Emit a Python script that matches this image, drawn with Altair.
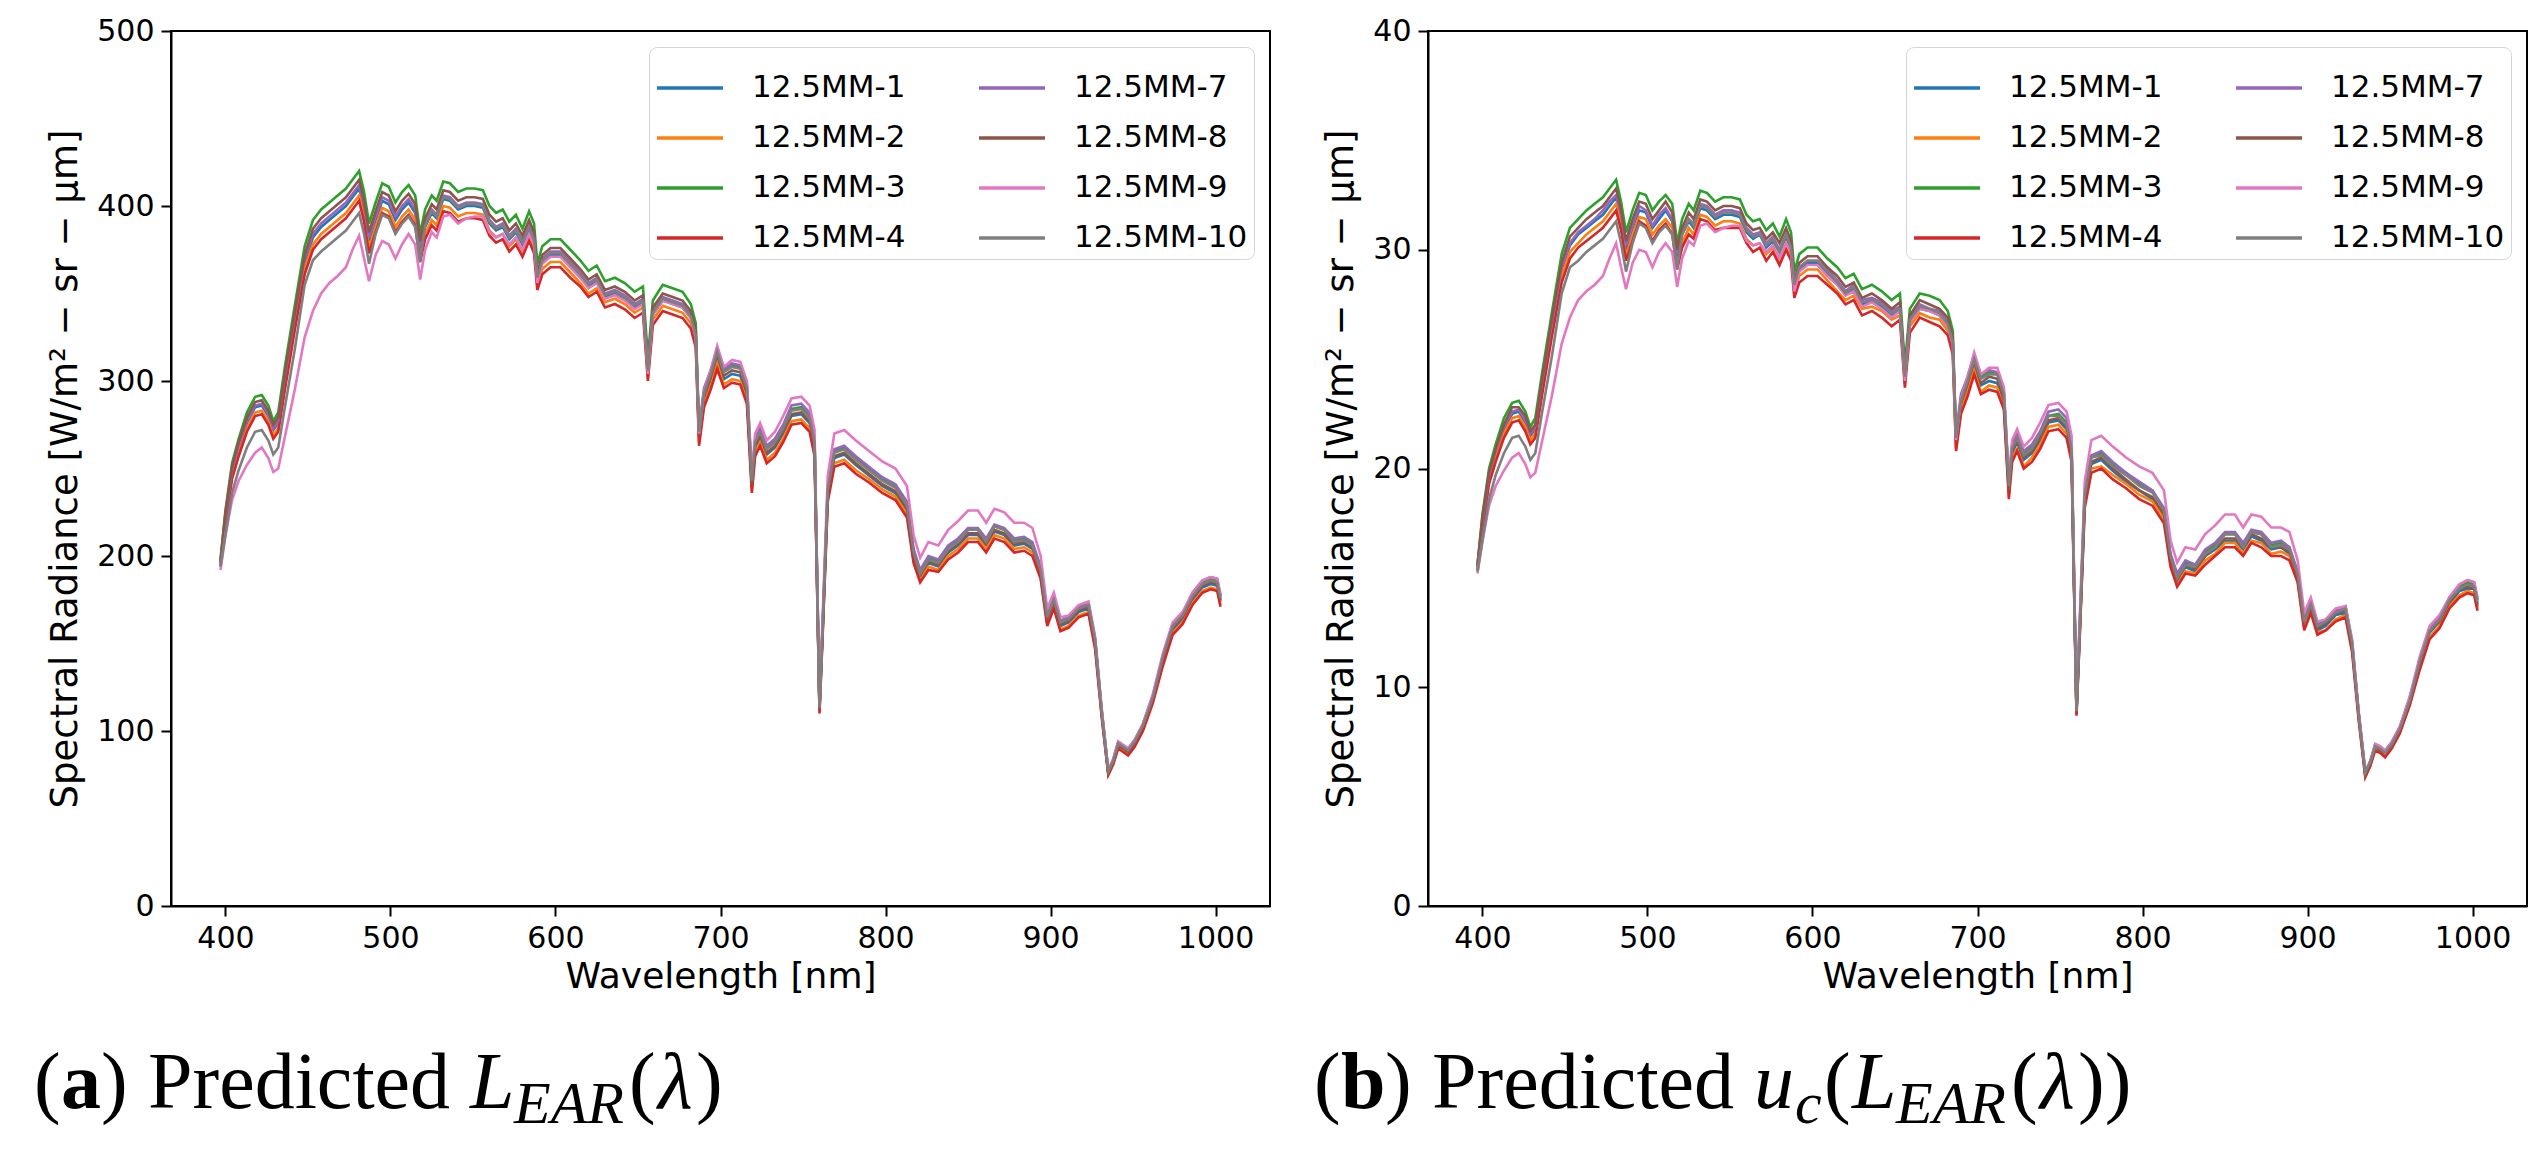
import altair as alt
import pandas as pd

# wavelength grid [nm]
wavelength = [397, 400, 404, 408, 413, 418, 422, 426, 429, 432,
              436, 442, 448, 453, 458, 463, 468, 473, 477, 481,
              484, 487, 491, 495, 499, 503, 507, 511, 515, 518,
              521, 525, 528, 532, 536, 541, 546, 551, 556, 560,
              564, 568, 572, 576, 580, 584, 587, 589, 592, 597,
              603, 609, 615, 620, 625, 630, 636, 642, 648, 653,
              656, 659, 665, 671, 677, 682, 685, 687, 690, 694,
              698, 702, 707, 712, 716, 719, 721, 724, 728, 733,
              738, 743, 749, 754, 757, 760, 762, 765, 769, 775,
              782, 790, 798, 806, 813, 817, 821, 826, 832, 838,
              844, 850, 856, 861, 866, 872, 878, 884, 889, 894,
              898, 902, 906, 911, 917, 923, 927, 931, 935, 938,
              941, 944, 947, 951, 956, 962, 968, 974, 980, 986,
              992, 997, 1001, 1003]

series = ["12.5MM-1", "12.5MM-2", "12.5MM-3", "12.5MM-4",
          "12.5MM-7", "12.5MM-8", "12.5MM-9", "12.5MM-10"]
colors = ["#1f77b4", "#ff7f0e", "#2ca02c", "#d62728",
          "#9467bd", "#8c564b", "#e377c2", "#7f7f7f"]

# (a) predicted radiance L_EAR
rad_1 = [196, 222, 248, 262, 276, 285, 286, 280, 272, 276, 300, 335, 368, 382, 388, 392, 396, 400, 405, 410,
         398, 380, 392, 403, 401, 392, 398, 402, 396, 375, 388, 396, 393, 404, 403, 398, 400, 400, 399, 390,
         386, 388, 381, 385, 378, 387, 380, 358, 368, 372, 372, 366, 360, 354, 357, 348, 350, 347, 342, 345,
         305, 338, 346, 344, 342, 336, 325, 268, 290, 300, 313, 301, 304, 303, 292, 240, 262, 268, 258, 262,
         270, 280, 281, 276, 262, 112, 160, 235, 256, 258, 252, 246, 240, 236, 226, 200, 188, 196, 194, 202,
         206, 212, 212, 206, 214, 212, 206, 207, 204, 190, 163, 173, 160, 162, 168, 170, 150, 110, 76, 82,
         92, 90, 88, 93, 102, 118, 140, 158, 164, 175, 182, 184, 183, 174]
rad_2 = [195, 220, 246, 259, 273, 282, 283, 277, 269, 273, 297, 332, 364, 378, 384, 388, 392, 396, 401, 406,
         394, 376, 388, 399, 397, 388, 394, 398, 392, 371, 384, 392, 389, 400, 399, 394, 396, 396, 395, 386,
         382, 384, 377, 381, 374, 383, 376, 354, 364, 368, 368, 362, 356, 350, 353, 345, 347, 344, 339, 342,
         302, 335, 343, 341, 339, 333, 322, 265, 287, 297, 310, 298, 301, 300, 289, 238, 259, 265, 255, 259,
         267, 277, 278, 273, 259, 111, 158, 233, 253, 255, 249, 244, 238, 234, 224, 198, 186, 194, 192, 200,
         204, 210, 210, 204, 212, 210, 204, 205, 202, 188, 161, 171, 158, 160, 166, 168, 149, 109, 75, 81,
         91, 89, 87, 92, 101, 117, 139, 156, 162, 173, 180, 182, 181, 172]
rad_3 = [198, 226, 253, 267, 282, 291, 292, 286, 277, 282, 308, 343, 377, 392, 398, 402, 406, 410, 415, 420,
         408, 390, 402, 413, 411, 402, 408, 412, 406, 384, 398, 406, 403, 414, 413, 408, 410, 410, 409, 400,
         396, 398, 391, 395, 387, 397, 390, 367, 377, 381, 381, 375, 369, 363, 366, 357, 359, 356, 351, 354,
         313, 346, 355, 353, 351, 344, 333, 272, 294, 305, 318, 306, 309, 308, 296, 244, 266, 272, 262, 266,
         274, 284, 285, 280, 266, 114, 162, 239, 260, 262, 256, 250, 244, 240, 229, 203, 191, 199, 197, 205,
         209, 215, 215, 209, 217, 215, 209, 210, 207, 193, 165, 176, 162, 164, 171, 173, 152, 112, 77, 83,
         93, 91, 89, 94, 104, 120, 142, 160, 166, 178, 185, 187, 186, 177]
rad_4 = [194, 218, 244, 257, 271, 280, 281, 275, 267, 271, 295, 329, 361, 375, 381, 385, 389, 393, 398, 403,
         391, 373, 385, 396, 394, 385, 391, 395, 389, 368, 381, 389, 386, 397, 396, 391, 393, 393, 392, 383,
         379, 381, 374, 378, 371, 380, 373, 352, 361, 365, 365, 359, 354, 348, 351, 342, 344, 341, 336, 339,
         300, 332, 340, 338, 336, 330, 319, 263, 285, 295, 307, 296, 299, 298, 287, 236, 257, 263, 253, 257,
         265, 275, 276, 271, 257, 110, 157, 231, 251, 253, 247, 242, 236, 232, 222, 196, 185, 192, 191, 198,
         202, 208, 208, 202, 210, 208, 202, 203, 200, 187, 160, 170, 157, 159, 165, 167, 147, 108, 75, 81,
         90, 88, 86, 91, 100, 116, 137, 155, 161, 172, 179, 181, 180, 171]
rad_7 = [196, 223, 249, 263, 277, 286, 287, 281, 273, 277, 302, 337, 370, 384, 390, 394, 398, 402, 407, 412,
         400, 382, 394, 405, 403, 394, 400, 404, 398, 377, 390, 398, 395, 406, 405, 400, 402, 402, 401, 392,
         388, 390, 383, 387, 380, 389, 382, 360, 370, 374, 374, 368, 362, 356, 359, 350, 352, 349, 344, 347,
         307, 340, 348, 346, 344, 338, 327, 273, 296, 306, 319, 307, 310, 309, 298, 245, 267, 273, 263, 267,
         275, 286, 287, 282, 267, 114, 163, 240, 261, 263, 257, 251, 245, 241, 231, 204, 192, 200, 198, 206,
         210, 216, 216, 210, 218, 216, 210, 211, 208, 194, 166, 176, 163, 165, 171, 173, 153, 112, 77, 84,
         94, 92, 90, 95, 104, 120, 143, 161, 167, 179, 186, 188, 187, 177]
rad_8 = [197, 225, 251, 265, 279, 288, 289, 283, 275, 279, 304, 339, 372, 387, 393, 397, 401, 405, 410, 415,
         403, 385, 397, 408, 406, 397, 403, 407, 401, 380, 393, 401, 398, 409, 408, 403, 405, 405, 404, 395,
         391, 393, 386, 390, 383, 392, 385, 362, 372, 376, 376, 370, 364, 358, 361, 352, 354, 351, 346, 349,
         309, 342, 350, 348, 346, 340, 329, 269, 291, 302, 315, 303, 306, 305, 293, 241, 263, 269, 259, 263,
         271, 281, 282, 277, 263, 113, 161, 236, 257, 259, 253, 247, 241, 237, 227, 201, 189, 197, 195, 203,
         207, 213, 213, 207, 215, 213, 207, 208, 205, 191, 164, 174, 161, 163, 169, 171, 151, 111, 76, 82,
         92, 90, 88, 93, 103, 119, 141, 159, 165, 176, 183, 185, 184, 175]
rad_9 = [192, 212, 232, 243, 252, 259, 262, 256, 248, 250, 268, 295, 325, 340, 350, 356, 360, 365, 375, 383,
         370, 357, 372, 380, 378, 370, 378, 384, 378, 358, 375, 385, 382, 394, 395, 390, 393, 394, 394, 385,
         382, 384, 378, 382, 375, 384, 378, 356, 367, 371, 371, 365, 359, 353, 356, 347, 349, 346, 341, 344,
         304, 338, 346, 344, 342, 336, 325, 270, 294, 306, 320, 308, 312, 311, 300, 247, 270, 276, 266, 271,
         280, 290, 291, 286, 272, 116, 168, 246, 270, 272, 266, 260, 254, 250, 240, 212, 199, 208, 206, 215,
         220, 226, 226, 219, 227, 225, 219, 219, 216, 200, 170, 179, 165, 166, 172, 174, 154, 113, 78, 84,
         94, 92, 90, 95, 104, 121, 144, 162, 168, 179, 186, 188, 187, 178]
rad_10 = [194, 212, 236, 249, 262, 271, 272, 266, 258, 262, 285, 318, 355, 369, 374, 378, 382, 386, 391, 396,
          384, 367, 384, 395, 393, 384, 390, 394, 388, 368, 389, 397, 394, 405, 404, 399, 401, 401, 400, 391,
          387, 389, 382, 386, 379, 388, 381, 359, 369, 373, 373, 367, 361, 355, 358, 349, 351, 348, 343, 346,
          306, 339, 347, 345, 343, 337, 326, 271, 293, 304, 317, 305, 308, 307, 296, 243, 265, 271, 261, 265,
          273, 283, 284, 279, 265, 113, 162, 238, 259, 261, 255, 249, 243, 239, 229, 202, 190, 198, 196, 204,
          208, 215, 215, 208, 217, 215, 208, 209, 206, 192, 165, 175, 162, 164, 170, 172, 152, 111, 77, 83,
          93, 91, 89, 94, 103, 119, 142, 160, 166, 177, 184, 186, 185, 176]

# (b) predicted uncertainty u_c(L_EAR)
unc_1 = [15.5, 17.5, 19.6, 20.7, 21.8, 22.5, 22.6, 22.1, 21.5, 21.8, 23.7, 26.5, 29.1, 30.2, 30.7, 31.0, 31.3, 31.6, 32.0, 32.4,
         31.4, 30.0, 31.0, 31.8, 31.7, 31.0, 31.4, 31.8, 31.3, 29.6, 30.7, 31.3, 31.0, 31.9, 31.8, 31.4, 31.6, 31.6, 31.5, 30.8,
         30.5, 30.7, 30.1, 30.4, 29.9, 30.6, 30.0, 28.3, 29.1, 29.4, 29.4, 28.9, 28.4, 28.0, 28.2, 27.5, 27.7, 27.4, 27.0, 27.3,
         24.1, 26.7, 27.3, 27.2, 27.0, 26.5, 25.7, 21.2, 22.9, 23.7, 24.7, 23.8, 24.0, 23.9, 23.1, 19.0, 20.7, 21.2, 20.4, 20.7,
         21.3, 22.1, 22.2, 21.8, 20.7, 8.8, 12.6, 18.6, 20.2, 20.4, 19.9, 19.4, 19.0, 18.6, 17.9, 15.8, 14.9, 15.5, 15.3, 16.0,
         16.3, 16.7, 16.7, 16.3, 16.9, 16.7, 16.3, 16.4, 16.1, 15.0, 12.9, 13.7, 12.6, 12.8, 13.3, 13.4, 11.9, 8.7, 6.0, 6.5,
         7.3, 7.1, 7.0, 7.3, 8.1, 9.3, 11.1, 12.5, 13.0, 13.8, 14.4, 14.5, 14.5, 13.7]
unc_2 = [15.4, 17.4, 19.4, 20.5, 21.6, 22.3, 22.4, 21.9, 21.3, 21.6, 23.5, 26.2, 28.8, 29.9, 30.3, 30.7, 31.0, 31.3, 31.7, 32.1,
         31.1, 29.7, 30.7, 31.5, 31.4, 30.7, 31.1, 31.4, 31.0, 29.3, 30.3, 31.0, 30.7, 31.6, 31.5, 31.1, 31.3, 31.3, 31.2, 30.5,
         30.2, 30.3, 29.8, 30.1, 29.5, 30.3, 29.7, 28.0, 28.8, 29.1, 29.1, 28.6, 28.1, 27.7, 27.9, 27.3, 27.4, 27.2, 26.8, 27.0,
         23.9, 26.5, 27.1, 26.9, 26.8, 26.3, 25.4, 20.9, 22.7, 23.5, 24.5, 23.5, 23.8, 23.7, 22.8, 18.8, 20.5, 20.9, 20.1, 20.5,
         21.1, 21.9, 22.0, 21.6, 20.5, 8.8, 12.5, 18.4, 20.0, 20.1, 19.7, 19.3, 18.8, 18.5, 17.7, 15.6, 14.7, 15.3, 15.2, 15.8,
         16.1, 16.6, 16.6, 16.1, 16.7, 16.6, 16.1, 16.2, 16.0, 14.9, 12.7, 13.5, 12.5, 12.6, 13.1, 13.3, 11.8, 8.6, 5.9, 6.4,
         7.2, 7.0, 6.9, 7.3, 8.0, 9.2, 11.0, 12.3, 12.8, 13.7, 14.2, 14.4, 14.3, 13.6]
unc_3 = [15.6, 17.9, 20.0, 21.1, 22.3, 23.0, 23.1, 22.6, 21.9, 22.3, 24.3, 27.1, 29.8, 31.0, 31.4, 31.8, 32.1, 32.4, 32.8, 33.2,
         32.2, 30.8, 31.8, 32.6, 32.5, 31.8, 32.2, 32.5, 32.1, 30.3, 31.4, 32.1, 31.8, 32.7, 32.6, 32.2, 32.4, 32.4, 32.3, 31.6,
         31.3, 31.4, 30.9, 31.2, 30.6, 31.4, 30.8, 29.0, 29.8, 30.1, 30.1, 29.6, 29.2, 28.7, 28.9, 28.2, 28.4, 28.1, 27.7, 28.0,
         24.7, 27.3, 28.0, 27.9, 27.7, 27.2, 26.3, 21.5, 23.2, 24.1, 25.1, 24.2, 24.4, 24.3, 23.4, 19.3, 21.0, 21.5, 20.7, 21.0,
         21.6, 22.4, 22.5, 22.1, 21.0, 9.0, 12.8, 18.9, 20.5, 20.7, 20.2, 19.8, 19.3, 19.0, 18.1, 16.0, 15.1, 15.7, 15.6, 16.2,
         16.5, 17.0, 17.0, 16.5, 17.1, 17.0, 16.5, 16.6, 16.4, 15.2, 13.0, 13.9, 12.8, 13.0, 13.5, 13.7, 12.0, 8.8, 6.1, 6.6,
         7.3, 7.2, 7.0, 7.4, 8.2, 9.5, 11.2, 12.6, 13.1, 14.1, 14.6, 14.8, 14.7, 14.0]
unc_4 = [15.3, 17.2, 19.3, 20.3, 21.4, 22.1, 22.2, 21.7, 21.1, 21.4, 23.3, 26.0, 28.5, 29.6, 30.1, 30.4, 30.7, 31.0, 31.4, 31.8,
         30.9, 29.5, 30.4, 31.3, 31.1, 30.4, 30.9, 31.2, 30.7, 29.1, 30.1, 30.7, 30.5, 31.4, 31.3, 30.9, 31.0, 31.0, 31.0, 30.3,
         29.9, 30.1, 29.5, 29.9, 29.3, 30.0, 29.5, 27.8, 28.5, 28.8, 28.8, 28.4, 28.0, 27.5, 27.7, 27.0, 27.2, 26.9, 26.5, 26.8,
         23.7, 26.2, 26.9, 26.7, 26.5, 26.1, 25.2, 20.8, 22.5, 23.3, 24.3, 23.4, 23.6, 23.5, 22.7, 18.6, 20.3, 20.8, 20.0, 20.3,
         20.9, 21.7, 21.8, 21.4, 20.3, 8.7, 12.4, 18.2, 19.8, 20.0, 19.5, 19.1, 18.6, 18.3, 17.5, 15.5, 14.6, 15.2, 15.1, 15.6,
         16.0, 16.4, 16.4, 16.0, 16.6, 16.4, 16.0, 16.0, 15.8, 14.8, 12.6, 13.4, 12.4, 12.6, 13.0, 13.2, 11.6, 8.5, 5.9, 6.4,
         7.1, 7.0, 6.8, 7.2, 7.9, 9.2, 10.8, 12.2, 12.7, 13.6, 14.1, 14.3, 14.2, 13.5]
unc_7 = [15.5, 17.6, 19.7, 20.8, 21.9, 22.6, 22.7, 22.2, 21.6, 21.9, 23.9, 26.6, 29.2, 30.3, 30.8, 31.1, 31.4, 31.8, 32.2, 32.5,
         31.6, 30.2, 31.1, 32.0, 31.8, 31.1, 31.6, 31.9, 31.4, 29.8, 30.8, 31.4, 31.2, 32.1, 32.0, 31.6, 31.8, 31.8, 31.7, 31.0,
         30.7, 30.8, 30.3, 30.6, 30.0, 30.7, 30.2, 28.4, 29.2, 29.5, 29.5, 29.1, 28.6, 28.1, 28.4, 27.7, 27.8, 27.6, 27.2, 27.4,
         24.3, 26.9, 27.5, 27.3, 27.2, 26.7, 25.8, 21.6, 23.4, 24.2, 25.2, 24.3, 24.5, 24.4, 23.5, 19.4, 21.1, 21.6, 20.8, 21.1,
         21.7, 22.6, 22.7, 22.3, 21.1, 9.0, 12.9, 19.0, 20.6, 20.8, 20.3, 19.8, 19.4, 19.0, 18.2, 16.1, 15.2, 15.8, 15.6, 16.3,
         16.6, 17.1, 17.1, 16.6, 17.2, 17.1, 16.6, 16.7, 16.4, 15.3, 13.1, 13.9, 12.9, 13.0, 13.5, 13.7, 12.1, 8.8, 6.1, 6.6,
         7.4, 7.3, 7.1, 7.5, 8.2, 9.5, 11.3, 12.7, 13.2, 14.1, 14.7, 14.9, 14.8, 14.0]
unc_8 = [15.6, 17.8, 19.8, 20.9, 22.0, 22.8, 22.8, 22.4, 21.7, 22.0, 24.0, 26.8, 29.4, 30.6, 31.0, 31.4, 31.7, 32.0, 32.4, 32.8,
         31.8, 30.4, 31.4, 32.2, 32.1, 31.4, 31.8, 32.2, 31.7, 30.0, 31.0, 31.7, 31.4, 32.3, 32.2, 31.8, 32.0, 32.0, 31.9, 31.2,
         30.9, 31.0, 30.5, 30.8, 30.3, 31.0, 30.4, 28.6, 29.4, 29.7, 29.7, 29.2, 28.8, 28.3, 28.5, 27.8, 28.0, 27.7, 27.3, 27.6,
         24.4, 27.0, 27.7, 27.5, 27.3, 26.9, 26.0, 21.3, 23.0, 23.9, 24.9, 23.9, 24.2, 24.1, 23.1, 19.0, 20.8, 21.3, 20.5, 20.8,
         21.4, 22.2, 22.3, 21.9, 20.8, 8.9, 12.7, 18.6, 20.3, 20.5, 20.0, 19.5, 19.0, 18.7, 17.9, 15.9, 14.9, 15.6, 15.4, 16.0,
         16.4, 16.8, 16.8, 16.4, 17.0, 16.8, 16.4, 16.4, 16.2, 15.1, 13.0, 13.7, 12.7, 12.9, 13.4, 13.5, 11.9, 8.8, 6.0, 6.5,
         7.3, 7.1, 7.0, 7.3, 8.1, 9.4, 11.1, 12.6, 13.0, 13.9, 14.5, 14.6, 14.5, 13.8]
unc_9 = [15.2, 16.7, 18.3, 19.2, 19.9, 20.5, 20.7, 20.2, 19.6, 19.8, 21.2, 23.3, 25.7, 26.9, 27.7, 28.1, 28.4, 28.8, 29.6, 30.3,
         29.2, 28.2, 29.4, 30.0, 29.9, 29.2, 29.9, 30.3, 29.9, 28.3, 29.6, 30.4, 30.2, 31.1, 31.2, 30.8, 31.0, 31.1, 31.1, 30.4,
         30.2, 30.3, 29.9, 30.2, 29.6, 30.3, 29.9, 28.1, 29.0, 29.3, 29.3, 28.8, 28.4, 27.9, 28.1, 27.4, 27.6, 27.3, 26.9, 27.2,
         24.0, 26.7, 27.3, 27.2, 27.0, 26.5, 25.7, 21.3, 23.2, 24.2, 25.3, 24.3, 24.6, 24.6, 23.7, 19.5, 21.3, 21.8, 21.0, 21.4,
         22.1, 22.9, 23.0, 22.6, 21.5, 9.2, 13.3, 19.4, 21.3, 21.5, 21.0, 20.5, 20.1, 19.8, 19.0, 16.7, 15.7, 16.4, 16.3, 17.0,
         17.4, 17.9, 17.9, 17.3, 17.9, 17.8, 17.3, 17.3, 17.1, 15.8, 13.4, 14.1, 13.0, 13.1, 13.6, 13.7, 12.2, 8.9, 6.2, 6.6,
         7.4, 7.3, 7.1, 7.5, 8.2, 9.6, 11.4, 12.8, 13.3, 14.1, 14.7, 14.9, 14.8, 14.1]
unc_10 = [15.3, 16.7, 18.6, 19.7, 20.7, 21.4, 21.5, 21.0, 20.4, 20.7, 22.5, 25.1, 28.0, 29.2, 29.5, 29.9, 30.2, 30.5, 30.9, 31.3,
          30.3, 29.0, 30.3, 31.2, 31.0, 30.3, 30.8, 31.1, 30.7, 29.1, 30.7, 31.4, 31.1, 32.0, 31.9, 31.5, 31.7, 31.7, 31.6, 30.9,
          30.6, 30.7, 30.2, 30.5, 29.9, 30.7, 30.1, 28.4, 29.2, 29.5, 29.5, 29.0, 28.5, 28.0, 28.3, 27.6, 27.7, 27.5, 27.1, 27.3,
          24.2, 26.8, 27.4, 27.3, 27.1, 26.6, 25.8, 21.4, 23.1, 24.0, 25.0, 24.1, 24.3, 24.3, 23.4, 19.2, 20.9, 21.4, 20.6, 20.9,
          21.6, 22.4, 22.4, 22.0, 20.9, 8.9, 12.8, 18.8, 20.5, 20.6, 20.1, 19.7, 19.2, 18.9, 18.1, 16.0, 15.0, 15.6, 15.5, 16.1,
          16.4, 17.0, 17.0, 16.4, 17.1, 17.0, 16.4, 16.5, 16.3, 15.2, 13.0, 13.8, 12.8, 13.0, 13.4, 13.6, 12.0, 8.8, 6.1, 6.6,
          7.3, 7.2, 7.0, 7.4, 8.1, 9.4, 11.2, 12.6, 13.1, 14.0, 14.5, 14.7, 14.6, 13.9]

radiance = [rad_1, rad_2, rad_3, rad_4, rad_7, rad_8, rad_9, rad_10]
uncertainty = [unc_1, unc_2, unc_3, unc_4, unc_7, unc_8, unc_9, unc_10]

W, H = 1099, 875
Y_TITLE = "Spectral Radiance [W/m² − sr − μm]"


def long_table(columns):
    rows = []
    for name, values in zip(series, columns):
        assert len(values) == len(wavelength), name
        for w, v in zip(wavelength, values):
            rows.append({"wavelength": w, "value": v, "series": name})
    return pd.DataFrame(rows)


def caption(pieces):
    one = pd.DataFrame({"k": [0]})
    out = []
    for text, dx, dy, size, weight, style in pieces:
        out.append(alt.Chart(one).mark_text(
            text=text, font="Liberation Serif", fontSize=size, fontWeight=weight,
            fontStyle=style, align="left", baseline="alphabetic", color="black"
        ).encode(x=alt.value(dx), y=alt.value(dy)))
    return out


def panel(df, y_max, y_step, pieces):
    lines = alt.Chart(df).mark_line(strokeWidth=2.6, clip=True).encode(
        x=alt.X("wavelength:Q", title="Wavelength [nm]",
                scale=alt.Scale(domain=[367, 1033], nice=False, zero=False),
                axis=alt.Axis(values=list(range(400, 1001, 100)), format="d")),
        y=alt.Y("value:Q", title=Y_TITLE,
                scale=alt.Scale(domain=[0, y_max], nice=False),
                axis=alt.Axis(values=list(range(0, y_max + 1, y_step)), format="d")),
        color=alt.Color("series:N",
                        scale=alt.Scale(domain=series, range=colors),
                        legend=alt.Legend(
                            title=None, orient="top-right", offset=16, columns=2,
                            symbolType="stroke", symbolSize=4356, symbolStrokeWidth=3.5,
                            labelFont="DejaVu Sans", labelFontSize=31, labelColor="black",
                            labelOffset=27, labelLimit=400, rowPadding=0, columnPadding=66,
                            padding=6, strokeColor="#d5d5d5", fillColor="white",
                            cornerRadius=8)),
    )
    return alt.layer(lines, *caption(pieces)).properties(width=W, height=H)


base_y, sub_y = 1077, 1092
cap_a = [("(", -137, base_y, 80, "normal", "normal"),
         ("a", -110, base_y, 80, "bold", "normal"),
         (")", -70, base_y, 80, "normal", "normal"),
         ("Predicted", -23, base_y, 80, "normal", "normal"),
         ("L", 299, base_y, 80, "normal", "italic"),
         ("EAR", 343, sub_y, 60, "normal", "italic"),
         ("(", 458, base_y, 80, "normal", "normal"),
         ("λ", 487, base_y, 80, "normal", "italic"),
         (")", 525, base_y, 80, "normal", "normal")]
cap_b = [("(", -114, base_y, 80, "normal", "normal"),
         ("b", -87, base_y, 80, "bold", "normal"),
         (")", -43, base_y, 80, "normal", "normal"),
         ("Predicted", 4, base_y, 80, "normal", "normal"),
         ("u", 326, base_y, 80, "normal", "italic"),
         ("c", 367, sub_y, 60, "normal", "italic"),
         ("(", 396, base_y, 80, "normal", "normal"),
         ("L", 424, base_y, 80, "normal", "italic"),
         ("EAR", 468, sub_y, 60, "normal", "italic"),
         ("(", 583, base_y, 80, "normal", "normal"),
         ("λ", 612, base_y, 80, "normal", "italic"),
         ("))", 650, base_y, 80, "normal", "normal")]

pa = panel(long_table(radiance), 500, 100, cap_a)
pb = panel(long_table(uncertainty), 40, 10, cap_b)

chart = alt.hconcat(pa, pb, spacing=42).resolve_scale(
    color="independent"
).properties(
    padding={"left": 25, "top": 7, "right": 0, "bottom": 0},
    background="white",
).configure_view(
    stroke="black", strokeWidth=2
).configure_axis(
    grid=False, domainColor="black", domainWidth=2, tickColor="black", tickWidth=2,
    tickSize=10, labelFont="DejaVu Sans", labelFontSize=30, labelColor="black",
    labelPadding=7, labelFlush=False, titleFont="DejaVu Sans", titleFontWeight="normal",
    titleColor="black"
).configure_axisX(
    titleFontSize=36, titlePadding=6
).configure_axisY(
    titleFontSize=37, titlePadding=12
)

chart.save("out.html", embed_options={"renderer": "svg", "actions": False})
